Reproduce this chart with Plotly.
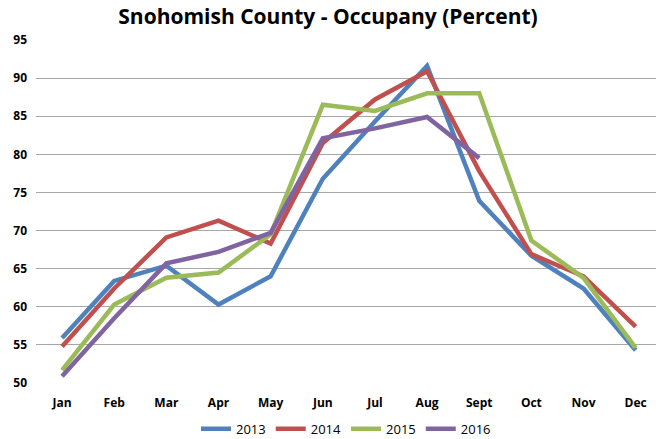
import plotly.graph_objects as go

months = ["Jan", "Feb", "Mar", "Apr", "May", "Jun", "Jul", "Aug", "Sept", "Oct", "Nov", "Dec"]
y2013 = [55.9, 63.4, 65.4, 60.3, 64.0, 76.8, 84.3, 91.6, 73.9, 66.7, 62.4, 54.3]
y2014 = [54.8, 62.4, 69.1, 71.3, 68.3, 81.5, 87.2, 90.9, 77.8, 66.9, 64.0, 57.4]
y2015 = [51.7, 60.3, 63.8, 64.5, 69.5, 86.5, 85.7, 88.0, 88.0, 68.7, 63.8, 54.6]
y2016 = [50.9, 58.5, 65.7, 67.2, 69.7, 82.1, 83.4, 84.9, 79.5]
series = [("2013", y2013, "#4F81BD"), ("2014", y2014, "#C0504D"),
          ("2015", y2015, "#9BBB59"), ("2016", y2016, "#8064A2")]

fig = go.Figure()
for name, ys, col in series:
    fig.add_trace(go.Scatter(x=months[:len(ys)], y=ys, name=name, mode="lines",
                             line=dict(color=col, width=4.5)))

fig.update_layout(
    width=656, height=439,
    paper_bgcolor="white", plot_bgcolor="white",
    margin=dict(l=36, r=0, t=40, b=56, autoexpand=False),
    font=dict(family="Liberation Sans, Arial, sans-serif", color="black"),
    title=dict(text="<b>Snohomish County - Occupany (Percent)</b>", x=0.5, xanchor="center",
               y=0.962, yanchor="middle", font=dict(size=21, family="Open Sans, sans-serif")),
    showlegend=True,
    legend=dict(orientation="h", x=0.5, xanchor="center", y=-0.09, yanchor="top",
                font=dict(size=13, family="Open Sans, sans-serif"), traceorder="normal",
                itemwidth=30, tracegroupgap=0),
)
fig.update_xaxes(type="category", range=[-0.5, 11.39], showgrid=False, showline=False,
                 ticks="", ticklen=0, automargin=False, ticklabelstandoff=11,
                 tickfont=dict(size=12, family="Open Sans, sans-serif"),
                 tickprefix="<b>", ticksuffix="</b>")
fig.update_yaxes(range=[50, 95], dtick=5, showgrid=True, gridcolor="#A6A6A6", gridwidth=1,
                 zeroline=False, showline=False, ticks="", ticklen=0, automargin=False,
                 ticklabelstandoff=8,
                 tickfont=dict(size=12, family="Open Sans, sans-serif"),
                 tickprefix="<b>", ticksuffix="</b>")

fig.write_html("out.html", config={"displayModeBar": False},
               post_script="document.body.style.margin='0';document.body.style.overflow='hidden';")
